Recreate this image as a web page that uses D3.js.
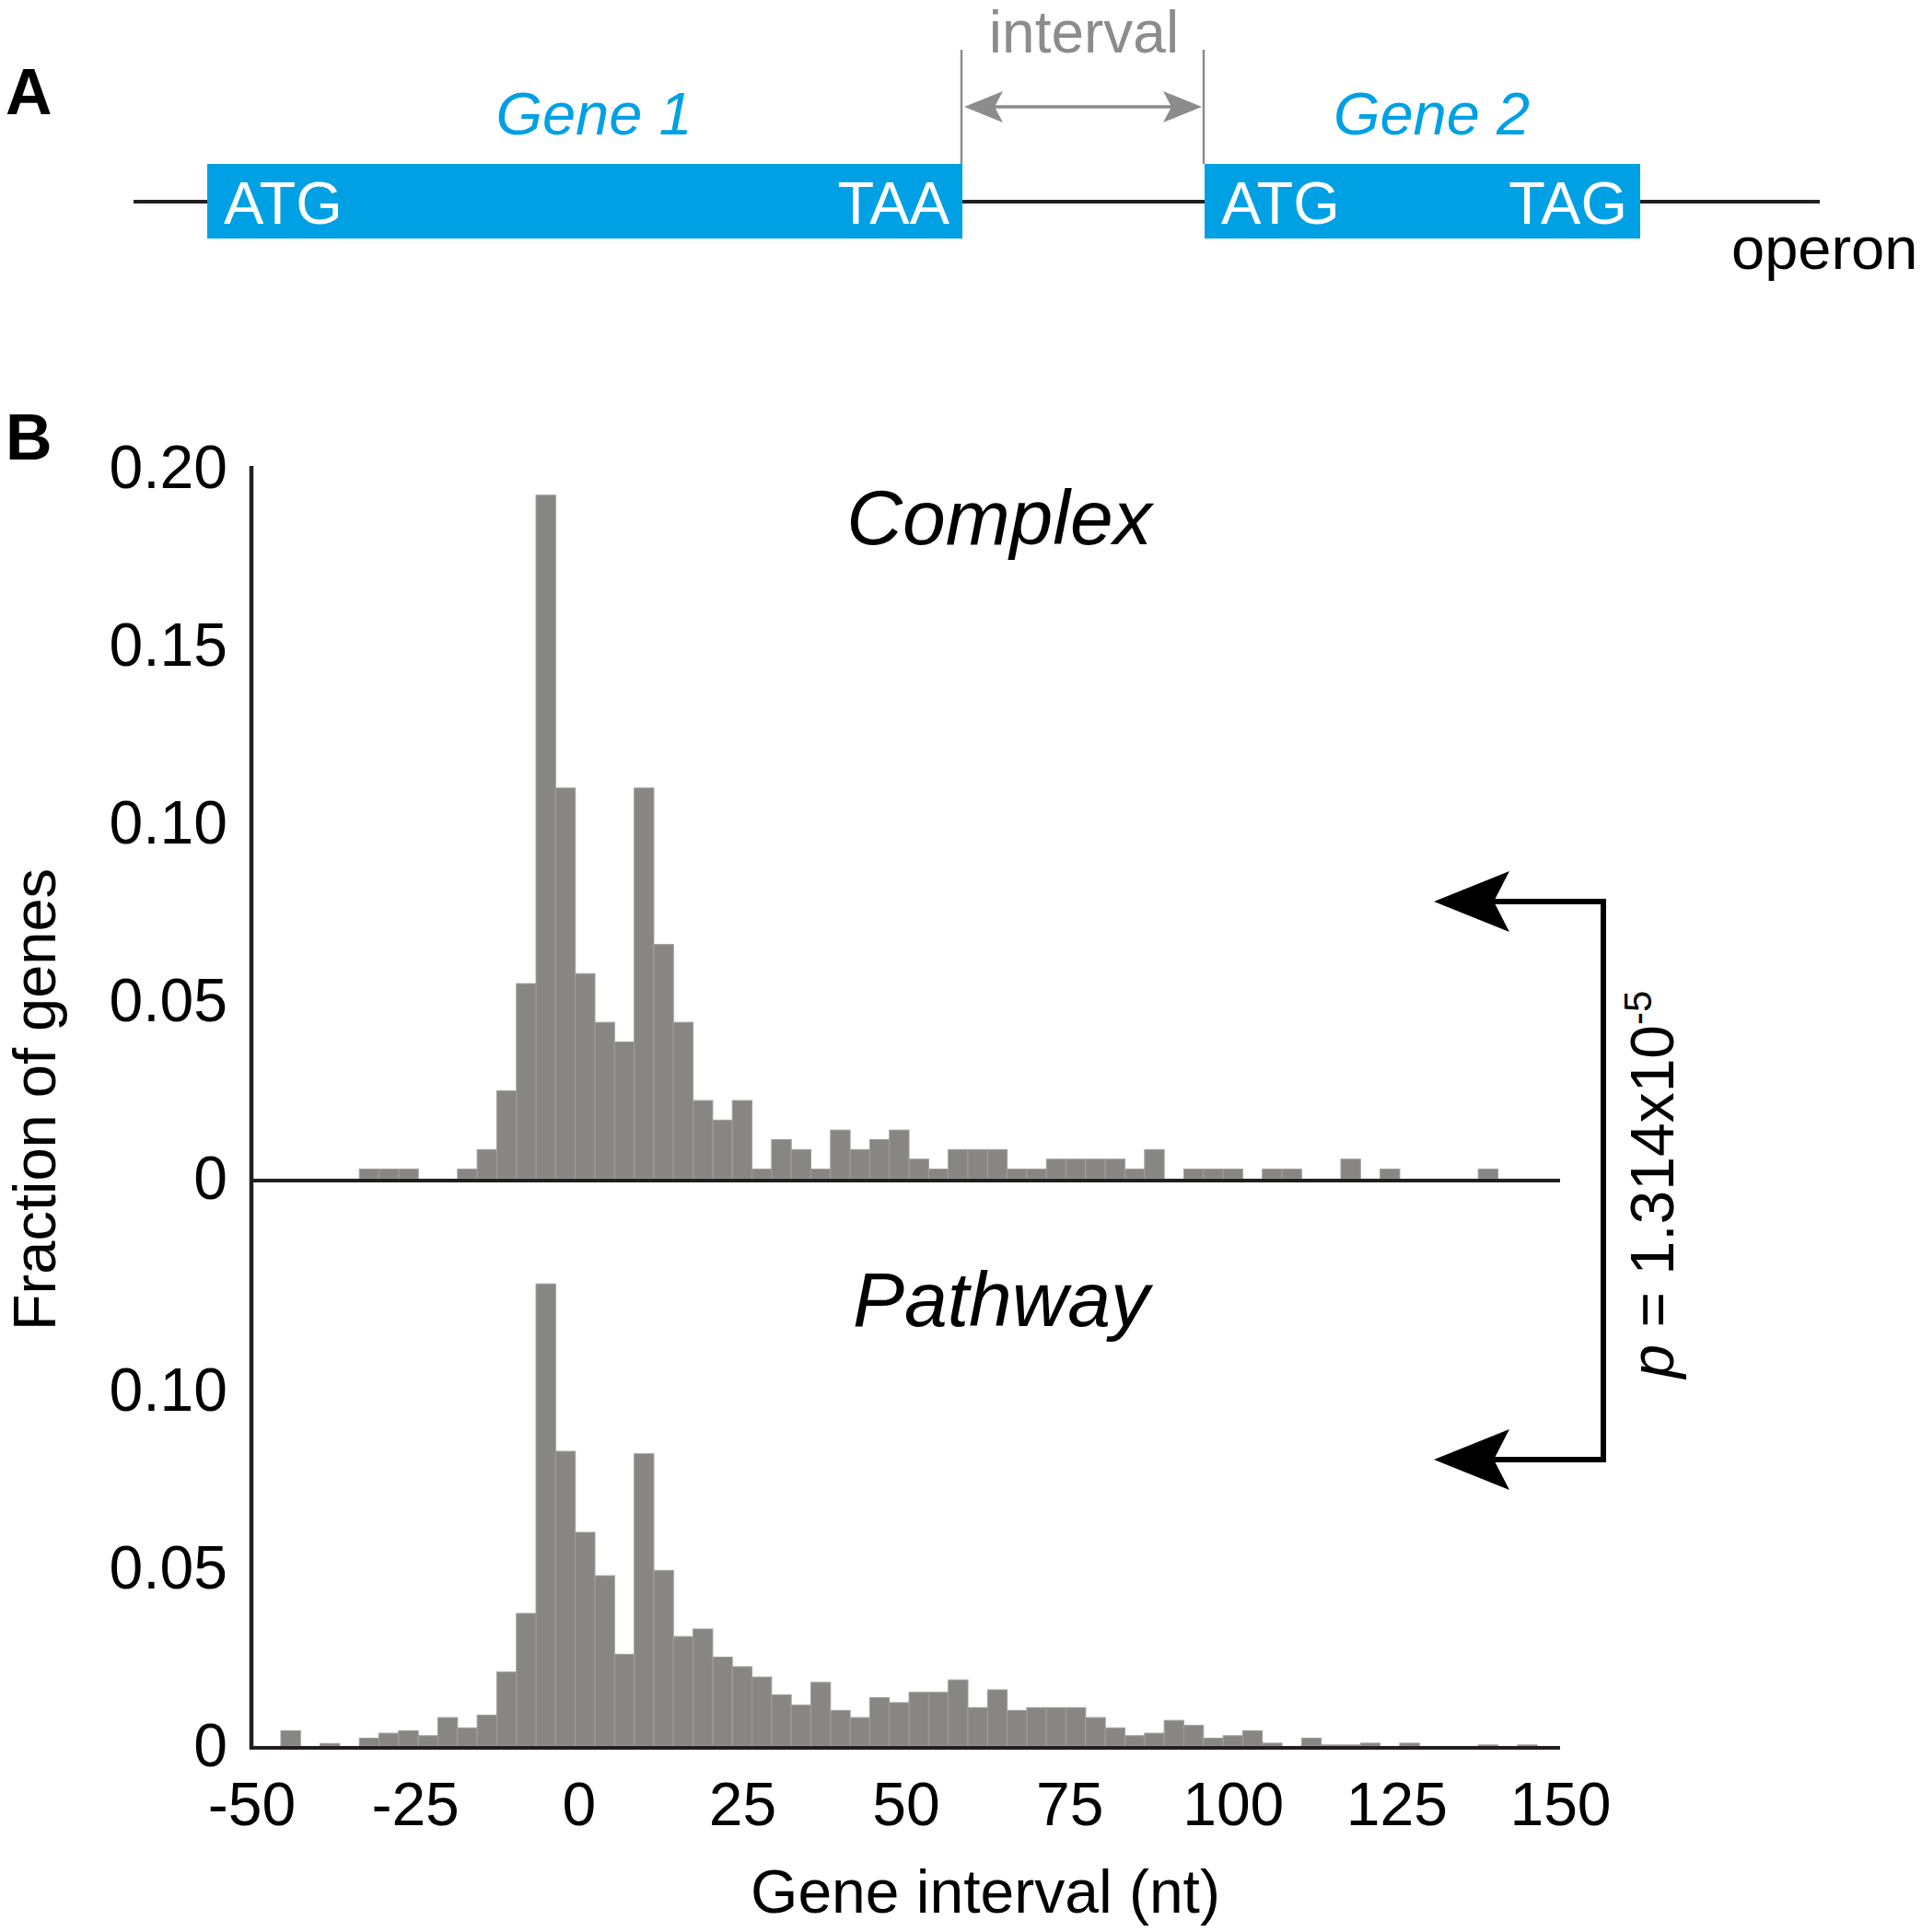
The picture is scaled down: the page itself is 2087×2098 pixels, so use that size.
<!DOCTYPE html>
<html>
<head>
<meta charset="utf-8">
<script src="https://cdn.jsdelivr.net/npm/d3@7"></script>
<style>
  body { margin: 0; background: #fff; }
  svg { display: block; }
  text { font-family: 'Liberation Sans', Arial, Helvetica, sans-serif; }
</style>
</head>
<body>
<div id="chart"></div>
<script>
// bin centres (nt), 3 nt wide bins
const binCenters = [
  -50, -47, -44, -41, -38, -35, -32, -29, -26, -23, -20, -17, -14, -11, -8, -5, -2,
  1, 4, 7, 10, 13, 16, 19, 22, 25, 28, 31, 34, 37, 40, 43, 46, 49, 52, 55, 58,
  61, 64, 67, 70, 73, 76, 79, 82, 85, 88, 91, 94, 97, 100, 103, 106, 109, 112,
  115, 118, 121, 124, 127, 130, 133, 136, 139, 142, 145, 148
]

// fraction of genes, complex
const complexValues = [
  0, 0, 0, 0, 0, 0, 0.0027, 0.0027, 0.0027, 0, 0, 0.0027, 0.0082, 0.0247, 0.0549, 0.1923, 0.1099,
  0.0577, 0.044, 0.0385, 0.1099, 0.0659, 0.044, 0.022, 0.0165, 0.022, 0.0027, 0.011, 0.0082, 0.0027, 0.0137, 0.0082, 0.011,
  0.0137, 0.0055, 0.0027, 0.0082, 0.0082, 0.0082, 0.0027, 0.0027, 0.0055, 0.0055, 0.0055, 0.0055, 0.0027, 0.0082, 0, 0.0027,
  0.0027, 0.0027, 0, 0.0027, 0.0027, 0, 0, 0.0055, 0, 0.0027, 0, 0, 0, 0, 0.0027, 0, 0, 0
]

// fraction of genes, pathway
const pathwayValues = [
  0, 0, 0.0043, 0, 0.0007, 0, 0.0022, 0.0036, 0.0043, 0.0029, 0.008, 0.0051, 0.0087, 0.0208, 0.0373, 0.13, 0.0829,
  0.0601, 0.0479, 0.0258, 0.0822, 0.0494, 0.0308, 0.0329, 0.025, 0.0223, 0.0194, 0.0144, 0.0115, 0.0179, 0.01, 0.008, 0.0136,
  0.0122, 0.0151, 0.0151, 0.0186, 0.0108, 0.0158, 0.01, 0.0108, 0.0108, 0.0108, 0.008, 0.0051, 0.0029, 0.0036, 0.0072, 0.0058,
  0.0022, 0.0029, 0.0043, 0.0008, 0, 0.0022, 0.0003, 0.0003, 0.0008, 0, 0.0008, 0, 0, 0, 0.0003, 0, 0.0003, 0
]

const xTicks = [-50, -25, 0, 25, 50, 75, 100, 125, 150]
const yTicksTop = [0, 0.05, 0.1, 0.15, 0.2]
const yTicksBottom = [0, 0.05, 0.1]

const width = 2087
const height = 2098
const blue = '#00a0e4'
const grey = '#8c8c8c'
const barColor = '#878682'
const ink = '#231f20'

const svg = d3
  .select('#chart')
  .append('svg')
  .attr('width', width)
  .attr('height', height)
  .attr('viewBox', [0, 0, width, height])

/* ---------- panel A : operon diagram ---------- */

svg.append('text')
  .attr('x', 6).attr('y', 124)
  .attr('font-size', 70).attr('font-weight', 'bold')
  .text('A')

svg.append('line')
  .attr('x1', 145).attr('x2', 1976)
  .attr('y1', 219).attr('y2', 219)
  .attr('stroke', ink).attr('stroke-width', 4)

const genes = [
  { name: 'Gene 1', x0: 225, x1: 1045, start: 'ATG', stop: 'TAA' },
  { name: 'Gene 2', x0: 1308, x1: 1781, start: 'ATG', stop: 'TAG' }
]

genes.forEach(g => {
  svg.append('rect')
    .attr('x', g.x0).attr('y', 178)
    .attr('width', g.x1 - g.x0).attr('height', 81)
    .attr('fill', blue)
  svg.append('text')
    .attr('x', g.x0 + 18).attr('y', 243)
    .attr('font-size', 65).attr('fill', '#fff')
    .text(g.start)
  svg.append('text')
    .attr('x', g.x1 - 14).attr('y', 243)
    .attr('text-anchor', 'end')
    .attr('font-size', 65).attr('fill', '#fff')
    .text(g.stop)
  svg.append('text')
    .attr('x', (g.x0 + g.x1) / 2 + 10).attr('y', 146)
    .attr('text-anchor', 'middle')
    .attr('font-size', 65).attr('font-style', 'italic')
    .attr('fill', blue)
    .text(g.name)
})

// interval marker
;[1044, 1307].forEach(xv => {
  svg.append('line')
    .attr('x1', xv).attr('x2', xv)
    .attr('y1', 54).attr('y2', 178)
    .attr('stroke', grey).attr('stroke-width', 2.5)
})
svg.append('line')
  .attr('x1', 1070).attr('x2', 1282)
  .attr('y1', 116).attr('y2', 116)
  .attr('stroke', grey).attr('stroke-width', 3.5)
svg.append('path')
  .attr('d', 'M1047,116 L1089,99 L1080,116 L1089,133 Z M1305,116 L1263,99 L1272,116 L1263,133 Z')
  .attr('fill', grey)
svg.append('text')
  .attr('x', 1177).attr('y', 57)
  .attr('text-anchor', 'middle')
  .attr('font-size', 64).attr('fill', grey)
  .text('interval')

svg.append('text')
  .attr('x', 1880).attr('y', 292)
  .attr('font-size', 65)
  .text('operon')

/* ---------- panel B : histograms ---------- */

svg.append('text')
  .attr('x', 6).attr('y', 499)
  .attr('font-size', 70).attr('font-weight', 'bold')
  .text('B')

const xPositionScale = d3.scaleLinear().domain([-50, 150]).range([273, 1694])
const yTop = d3.scaleLinear().domain([0, 0.2]).range([1280, 508])
const yBottom = d3.scaleLinear().domain([0, 0.16]).range([1896, 1896 - 0.16 * 3860])

function drawBars(values, yScale, cls) {
  const bins = binCenters
    .map((c, i) => ({ x0: Math.max(c - 1.5, -50), x1: Math.min(c + 1.5, 150), value: values[i] }))
    .filter(d => d.value > 0)

  svg.append('g')
    .attr('class', cls)
    .selectAll('rect')
    .data(bins)
    .enter()
    .append('rect')
    .attr('x', d => xPositionScale(d.x0))
    .attr('width', d => xPositionScale(d.x1) - xPositionScale(d.x0))
    .attr('y', d => yScale(d.value))
    .attr('height', d => yScale(0) - yScale(d.value))
    .attr('fill', barColor)
    .attr('stroke', '#a09f9b')
    .attr('stroke-width', 1)
}

drawBars(complexValues, yTop, 'bars-complex')
drawBars(pathwayValues, yBottom, 'bars-pathway')

const tickFormat = d => (d === 0 ? '0' : d3.format('.2f')(d))

function styleAxis(g) {
  g.select('.domain').remove()
  g.selectAll('text')
    .attr('font-size', 66)
    .attr('font-family', "'Liberation Sans', Arial, sans-serif")
    .attr('fill', '#000')
}

svg.append('g')
  .attr('class', 'axis y-axis-top')
  .attr('transform', 'translate(273,0)')
  .call(d3.axisLeft(yTop).tickValues(yTicksTop).tickSize(0).tickPadding(26).tickFormat(tickFormat))
  .call(styleAxis)

svg.append('g')
  .attr('class', 'axis y-axis-bottom')
  .attr('transform', 'translate(273,0)')
  .call(d3.axisLeft(yBottom).tickValues(yTicksBottom).tickSize(0).tickPadding(26).tickFormat(tickFormat))
  .call(styleAxis)

svg.append('g')
  .attr('class', 'axis x-axis')
  .attr('transform', 'translate(0,' + (yBottom(0) + 2) + ')')
  .call(d3.axisBottom(xPositionScale).tickValues(xTicks).tickSize(0).tickPadding(37).tickFormat(d => String(d)))
  .call(styleAxis)

// axis lines
svg.append('line')
  .attr('x1', 273).attr('x2', 273)
  .attr('y1', 506).attr('y2', yBottom(0) + 4)
  .attr('stroke', ink).attr('stroke-width', 4.5)
;[yTop(0) + 2, yBottom(0) + 2].forEach(yv => {
  svg.append('line')
    .attr('x1', 271).attr('x2', xPositionScale(150))
    .attr('y1', yv).attr('y2', yv)
    .attr('stroke', ink).attr('stroke-width', 4)
})

// panel titles
svg.append('text')
  .attr('x', 1085).attr('y', 591)
  .attr('text-anchor', 'middle')
  .attr('font-size', 84).attr('font-style', 'italic')
  .text('Complex')
svg.append('text')
  .attr('x', 1087).attr('y', 1440)
  .attr('text-anchor', 'middle')
  .attr('font-size', 84).attr('font-style', 'italic')
  .text('Pathway')

// axis titles
svg.append('text')
  .attr('transform', 'translate(60,1194) rotate(-90)')
  .attr('text-anchor', 'middle')
  .attr('font-size', 65)
  .text('Fraction of genes')
svg.append('text')
  .attr('x', 1070).attr('y', 2077)
  .attr('text-anchor', 'middle')
  .attr('font-size', 66)
  .text('Gene interval (nt)')

/* ---------- significance bracket ---------- */

svg.append('path')
  .attr('d', 'M1620,979 H1741 V1585 H1620')
  .attr('fill', 'none')
  .attr('stroke', '#000').attr('stroke-width', 6)
;[979, 1585].forEach(yv => {
  svg.append('path')
    .attr('d', `M1557,${yv} L1639,${yv - 33} L1622,${yv} L1639,${yv + 33} Z`)
    .attr('fill', '#000')
})

const pText = svg.append('text')
  .attr('transform', 'translate(1817,1286) rotate(-90)')
  .attr('text-anchor', 'middle')
  .attr('font-size', 66)
pText.append('tspan').attr('font-style', 'italic').text('p')
pText.append('tspan').text(' = 1.314x10')
pText.append('tspan').attr('font-size', 42).attr('dy', -24).text('-5')
</script>
</body>
</html>
